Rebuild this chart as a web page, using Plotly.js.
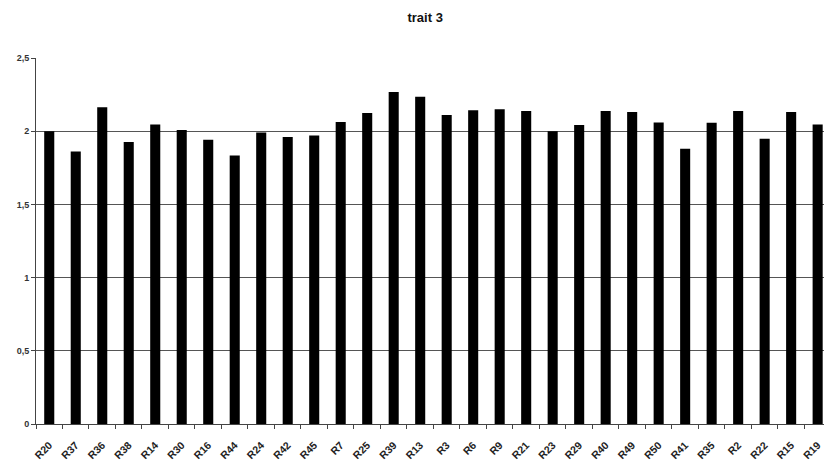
<!DOCTYPE html>
<html>
<head>
<meta charset="utf-8">
<script src="https://cdn.plot.ly/plotly-3.0.1.min.js"></script>
<style>html,body{margin:0;padding:0;background:#fff;}#chart{width:824px;height:465px;}</style>
</head>
<body>
<div id="chart"></div>
<script>
var categories = ["R20","R37","R36","R38","R14","R30","R16","R44","R24","R42","R45","R7","R25","R39","R13","R3","R6","R9","R21","R23","R29","R40","R49","R50","R41","R35","R2","R22","R15","R19"];
var values = [2.00,1.862,2.163,1.927,2.045,2.009,1.941,1.834,1.991,1.961,1.971,2.063,2.125,2.267,2.236,2.111,2.143,2.150,2.138,2.000,2.043,2.138,2.132,2.059,1.880,2.057,2.138,1.948,2.132,2.045];
var yTicks = [0,0.5,1,1.5,2,2.5];
var yTickText = ["0","0,5","1","1,5","2","2,5"];

var trace = {
  type: "bar",
  x: categories,
  y: values,
  marker: {color: "#000000", line: {width: 0}},
  hoverinfo: "x+y"
};

var layout = {
  width: 824,
  height: 465,
  margin: {l: 36, r: 0, t: 58, b: 41},
  paper_bgcolor: "#ffffff",
  plot_bgcolor: "#ffffff",
  showlegend: false,
  bargap: 0.62,
  title: {
    text: "<b>trait 3</b>",
    x: 0.516, xanchor: "center",
    y: 0.962, yanchor: "middle",
    font: {family: "Liberation Sans Narrow, Liberation Sans, Arial", size: 13, color: "#111"}
  },
  xaxis: {
    type: "category",
    range: [-0.5, 29.24],
    tickangle: -45,
    ticks: "outside",
    tickson: "boundaries",
    ticklen: 4,
    tickcolor: "#444",
    ticklabelstandoff: 10,
    showline: true,
    linecolor: "#444",
    linewidth: 1,
    showgrid: false,
    tickfont: {family: "Liberation Sans, Arial", size: 10.5, color: "#222", weight: "bold"}
  },
  yaxis: {
    range: [0, 2.5],
    tickvals: yTicks,
    ticktext: yTickText,
    ticks: "outside",
    ticklen: 4,
    tickcolor: "#444",
    showline: true,
    linecolor: "#444",
    linewidth: 1,
    showgrid: true,
    gridcolor: "#555",
    gridwidth: 1,
    zeroline: false,
    tickfont: {family: "Liberation Sans, Arial", size: 9, color: "#333", weight: "bold"}
  }
};

Plotly.newPlot("chart", [trace], layout, {displayModeBar: false, staticPlot: true});
</script>
</body>
</html>
